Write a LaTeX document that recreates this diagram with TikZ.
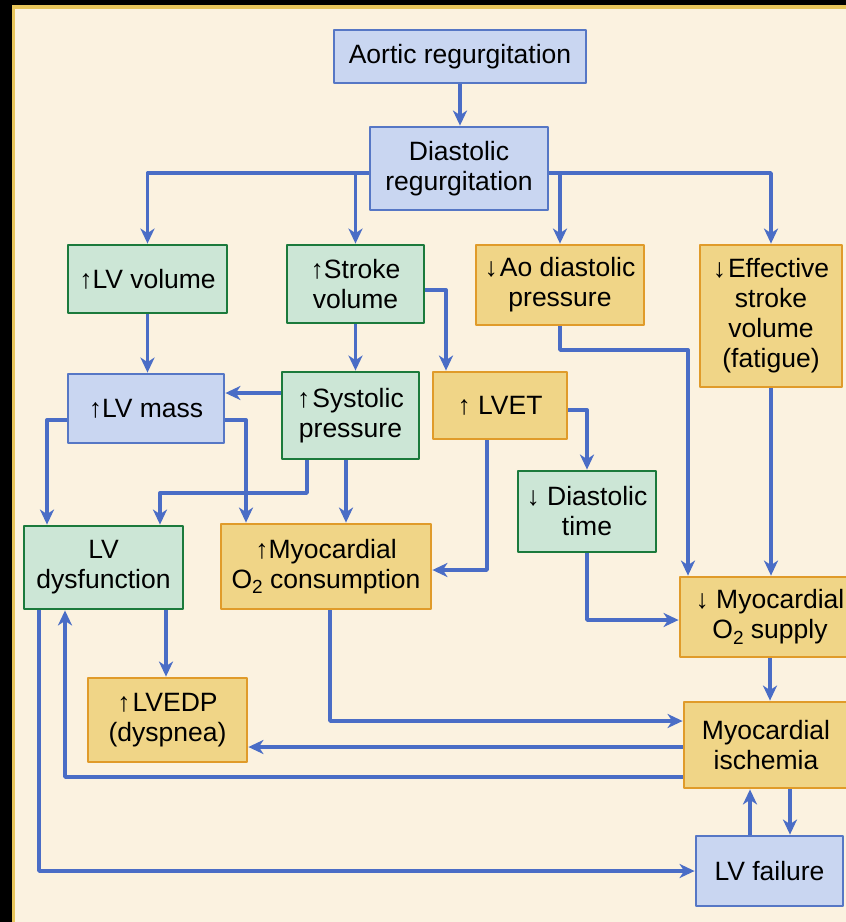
\documentclass[tikz,border=0pt]{standalone}
\usepackage{fontspec}
\setmainfont{Liberation Sans}
\usetikzlibrary{arrows.meta}
\definecolor{cream}{HTML}{FBF2E0}
\definecolor{gold}{HTML}{E7C55B}
\definecolor{bfill}{HTML}{C9D6F1}
\definecolor{bline}{HTML}{5677C5}
\definecolor{gfill}{HTML}{CCE6D6}
\definecolor{gline}{HTML}{1B7A3C}
\definecolor{ofill}{HTML}{F0D587}
\definecolor{oline}{HTML}{E09B2A}
\definecolor{arrowblue}{HTML}{4A6DC6}
\newcommand{\Otwo}{O\raisebox{-.4ex}{\fontsize{19}{19}\selectfont 2}}
\begin{document}
\begin{tikzpicture}[x=1pt, y=-1pt, line join=round,
	font=\fontsize{26.5}{30}\selectfont,
	>={Stealth[length=15pt,width=14pt,inset=4.5pt]},
	box/.style={draw, line width=2.8pt, align=center, inner sep=0pt},
	bbox/.style={box, fill=bfill, draw=bline},
	gbox/.style={box, fill=gfill, draw=gline},
	obox/.style={box, fill=ofill, draw=oline},
	arr/.style={->, draw=arrowblue, line width=3.4pt}]
	% frame
	\fill (0,0) rectangle (846,922);
	\fill[gold] (12,5) rectangle (846,922);
	\fill[cream] (15,9) rectangle (846,922);
	\clip (0,0) rectangle (846,922);
	% boxes
	\node[bbox, minimum width=252, minimum height=53] (aortic) at (460,56.5) {Aortic regurgitation};
	\node[bbox, minimum width=178, minimum height=83] (diast) at (459,168.5) {Diastolic\\regurgitation};
	\node[gbox, minimum width=159, minimum height=68] (lvvol) at (147.5,279) {↑LV volume};
	\node[gbox, minimum width=137, minimum height=78] (stroke) at (355.5,284) {↑Stroke\\volume};
	\node[obox, minimum width=168, minimum height=80] (aodia) at (560,285) {↓\kern2pt Ao diastolic\\pressure};
	\node[obox, minimum width=142, minimum height=142] (effsv) at (771,316) {↓\kern2pt Effective\\stroke\\volume\\(fatigue)};
	\node[bbox, minimum width=156, minimum height=69] (lvmass) at (146,408.5) {↑LV mass};
	\node[gbox, minimum width=137, minimum height=87] (systolic) at (350.5,415.5) {↑\kern2pt Systolic\\pressure};
	\node[obox, minimum width=134, minimum height=67] (lvet) at (500,405.5) {↑ LVET};
	\node[gbox, minimum width=138, minimum height=81] (diatime) at (587,511.5) {↓ Diastolic\\time};
	\node[gbox, minimum width=159, minimum height=83] (lvdys) at (103.5,567.5) {LV\\dysfunction};
	\node[obox, minimum width=210, minimum height=85] (mvo2) at (326,566.5) {↑Myocardial\\\Otwo\ consumption};
	\node[obox, minimum width=180, minimum height=80] (o2sup) at (770,617) {↓ Myocardial\\\Otwo\ supply};
	\node[obox, minimum width=159, minimum height=84] (lvedp) at (167.5,720) {↑\kern2pt LVEDP\\(dyspnea)};
	\node[obox, minimum width=164, minimum height=86] (ischemia) at (766,745) {Myocardial\\ischemia};
	\node[bbox, minimum width=147, minimum height=70] (lvfail) at (769.5,871) {LV failure};
	% connectors
	\draw[arr] (aortic) -- (aortic |- diast.north);
	\draw[arr] (diast.west |- 0,173) -| (lvvol.north);
	\draw[arr] (stroke.north |- 0,173) -- (stroke.north);
	\draw[arr] (diast.east |- 0,173) -| (effsv.north);
	\draw[arr] (aodia.north |- 0,173) -- (aodia.north);
	\draw[arr] (lvvol.south) -- (lvvol.south |- lvmass.north);
	\draw[arr] (stroke.south) -- (stroke.south |- systolic.north);
	\draw[arr] (stroke.east |- 0,290) -| (446,0 |- lvet.north);
	\draw[arr] (systolic.west |- 0,393) -- (lvmass.east |- 0,393);
	\draw[arr] (lvmass.west |- 0,420) -| (47,0 |- lvdys.north);
	\draw[arr] (lvmass.east |- 0,420) -| (246,0 |- mvo2.north);
	\draw[arr] (307,0 |- systolic.south) |- (160,493) -- (160,0 |- lvdys.north);
	\draw[arr] (346,0 |- systolic.south) -- (346,0 |- mvo2.north);
	\draw[arr] (487,0 |- lvet.south) |- (mvo2.east |- 0,570);
	\draw[arr] (lvet.east |- 0,410) -| (diatime.north);
	\draw[arr] (aodia.south) |- (688,350) -- (688,0 |- o2sup.north);
	\draw[arr] (effsv.south) -- (effsv.south |- o2sup.north);
	\draw[arr] (diatime.south) |- (o2sup.west |- 0,620);
	\draw[arr] (o2sup.south) -- (o2sup.south |- ischemia.north);
	\draw[arr] (330,0 |- mvo2.south) |- (ischemia.west |- 0,721);
	\draw[arr] (ischemia.west |- 0,747) -- (lvedp.east |- 0,747);
	\draw[arr] (ischemia.west |- 0,777) -| (65,0 |- lvdys.south);
	\draw[arr] (39,0 |- lvdys.south) |- (lvfail.west);
	\draw[arr] (166,0 |- lvdys.south) -- (166,0 |- lvedp.north);
	\draw[arr] (750,0 |- lvfail.north) -- (750,0 |- ischemia.south);
	\draw[arr] (790,0 |- ischemia.south) -- (790,0 |- lvfail.north);
\end{tikzpicture}
\end{document}
